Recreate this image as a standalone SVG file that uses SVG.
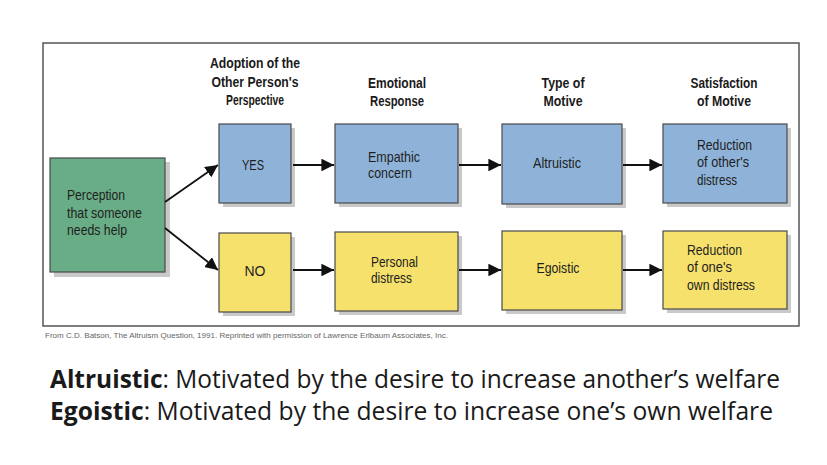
<svg xmlns="http://www.w3.org/2000/svg" width="827" height="465" viewBox="0 0 827 465">
  <style>
    .hdr { font-family: "Liberation Sans", Arial, sans-serif; font-size: 14px; font-weight: bold; fill: #1a1a1a; text-anchor: middle; }
    .lbl { font-family: "Liberation Sans", Arial, sans-serif; font-size: 15px; fill: #1e1e1e; }
    .mid { text-anchor: middle; }
    .box { stroke: #4a4a4a; stroke-width: 1.2; }
    .blue { fill: #8fb3d8; }
    .yellow { fill: #f6e16d; }
    .green { fill: #69ad86; }
    .shadow { fill: #c9c9c9; }
    .conn { stroke: #111; stroke-width: 1.8; fill: none; marker-end: url(#arrow); }
    .cite { font-family: "Liberation Sans", Arial, sans-serif; font-size: 7px; fill: #666; }
    .foot { font-family: "Open Sans", "Noto Sans", sans-serif; font-size: 25px; fill: #1a1a1a; }
  </style>
  <defs>
    <marker id="arrow" viewBox="0 0 10 10" refX="10" refY="5" markerWidth="7" markerHeight="7" orient="auto" markerUnits="strokeWidth">
      <path d="M0,0 L10,5 L0,10 z" fill="#111"/>
    </marker>
  </defs>
  <rect width="827" height="465" fill="#ffffff"/>
  <rect x="43" y="43" width="756" height="283" fill="#ffffff" stroke="#555" stroke-width="1.5"/>

  <g id="headers">
    <text class="hdr" x="255" y="68" textLength="90" lengthAdjust="spacingAndGlyphs">Adoption of the</text>
    <text class="hdr" x="255" y="87" textLength="87" lengthAdjust="spacingAndGlyphs">Other Person's</text>
    <text class="hdr" x="255" y="105" textLength="58" lengthAdjust="spacingAndGlyphs">Perspective</text>
    <text class="hdr" x="397" y="88" textLength="58" lengthAdjust="spacingAndGlyphs">Emotional</text>
    <text class="hdr" x="397" y="106" textLength="54" lengthAdjust="spacingAndGlyphs">Response</text>
    <text class="hdr" x="563" y="88" textLength="43" lengthAdjust="spacingAndGlyphs">Type of</text>
    <text class="hdr" x="563" y="106" textLength="39" lengthAdjust="spacingAndGlyphs">Motive</text>
    <text class="hdr" x="724" y="88" textLength="67" lengthAdjust="spacingAndGlyphs">Satisfaction</text>
    <text class="hdr" x="724" y="106" textLength="54" lengthAdjust="spacingAndGlyphs">of Motive</text>
  </g>

  <g id="perception">
    <rect class="shadow" x="54" y="162" width="116" height="115"/>
    <rect class="box green" x="50" y="158" width="115" height="114"/>
    <text class="lbl" x="67" y="200" textLength="58" lengthAdjust="spacingAndGlyphs">Perception</text>
    <text class="lbl" x="67" y="218" textLength="75" lengthAdjust="spacingAndGlyphs">that someone</text>
    <text class="lbl" x="67" y="235" textLength="60" lengthAdjust="spacingAndGlyphs">needs help</text>
  </g>

  <g id="yes">
    <rect class="shadow" x="223" y="128" width="72" height="79"/>
    <rect class="box blue" x="219" y="124" width="72" height="79"/>
    <text class="lbl mid" x="253" y="170" textLength="22" lengthAdjust="spacingAndGlyphs">YES</text>
  </g>

  <g id="no">
    <rect class="shadow" x="223" y="237" width="72" height="79"/>
    <rect class="box yellow" x="219" y="233" width="72" height="79"/>
    <text class="lbl mid" x="255" y="276" textLength="21" lengthAdjust="spacingAndGlyphs">NO</text>
  </g>

  <g id="empathic">
    <rect class="shadow" x="339" y="128" width="123" height="79"/>
    <rect class="box blue" x="335" y="124" width="123" height="79"/>
    <text class="lbl" x="368" y="162" textLength="52" lengthAdjust="spacingAndGlyphs">Empathic</text>
    <text class="lbl" x="368" y="178" textLength="44" lengthAdjust="spacingAndGlyphs">concern</text>
  </g>

  <g id="personal">
    <rect class="shadow" x="339" y="236" width="123" height="79"/>
    <rect class="box yellow" x="335" y="232" width="123" height="79"/>
    <text class="lbl" x="371" y="267" textLength="47" lengthAdjust="spacingAndGlyphs">Personal</text>
    <text class="lbl" x="371" y="283" textLength="41" lengthAdjust="spacingAndGlyphs">distress</text>
  </g>

  <g id="altruistic">
    <rect class="shadow" x="506" y="128" width="120" height="80"/>
    <rect class="box blue" x="502" y="124" width="120" height="80"/>
    <text class="lbl mid" x="557" y="168" textLength="48" lengthAdjust="spacingAndGlyphs">Altruistic</text>
  </g>

  <g id="egoistic">
    <rect class="shadow" x="506" y="235" width="120" height="79"/>
    <rect class="box yellow" x="502" y="231" width="120" height="79"/>
    <text class="lbl mid" x="558" y="273" textLength="43" lengthAdjust="spacingAndGlyphs">Egoistic</text>
  </g>

  <g id="reduction-other">
    <rect class="shadow" x="667" y="128" width="124" height="79"/>
    <rect class="box blue" x="663" y="124" width="124" height="79"/>
    <text class="lbl" x="697" y="150" textLength="55" lengthAdjust="spacingAndGlyphs">Reduction</text>
    <text class="lbl" x="697" y="167" textLength="52" lengthAdjust="spacingAndGlyphs">of other's</text>
    <text class="lbl" x="697" y="185" textLength="40" lengthAdjust="spacingAndGlyphs">distress</text>
  </g>

  <g id="reduction-own">
    <rect class="shadow" x="667" y="235" width="124" height="78"/>
    <rect class="box yellow" x="663" y="231" width="124" height="78"/>
    <text class="lbl" x="687" y="255" textLength="55" lengthAdjust="spacingAndGlyphs">Reduction</text>
    <text class="lbl" x="687" y="272" textLength="45" lengthAdjust="spacingAndGlyphs">of one's</text>
    <text class="lbl" x="687" y="290" textLength="68" lengthAdjust="spacingAndGlyphs">own distress</text>
  </g>

  <g id="connectors">
    <line class="conn" x1="165" y1="202" x2="218" y2="165"/>
    <line class="conn" x1="165" y1="228" x2="218" y2="270"/>
    <line class="conn" x1="293" y1="165" x2="334" y2="165"/>
    <line class="conn" x1="293" y1="270" x2="334" y2="270"/>
    <line class="conn" x1="459" y1="165" x2="501" y2="165"/>
    <line class="conn" x1="459" y1="270" x2="501" y2="270"/>
    <line class="conn" x1="623" y1="165" x2="662" y2="165"/>
    <line class="conn" x1="623" y1="270" x2="662" y2="270"/>
  </g>

  <text class="cite" x="45" y="338" textLength="403" lengthAdjust="spacingAndGlyphs">From C.D. Batson, The Altruism Question, 1991. Reprinted with permission of Lawrence Erlbaum Associates, Inc.</text>

  <text class="foot" x="50" y="388" textLength="730" lengthAdjust="spacingAndGlyphs"><tspan font-weight="bold">Altruistic</tspan>: Motivated by the desire to increase another’s welfare</text>
  <text class="foot" x="50" y="420" textLength="723" lengthAdjust="spacingAndGlyphs"><tspan font-weight="bold">Egoistic</tspan>: Motivated by the desire to increase one’s own welfare</text>
</svg>
